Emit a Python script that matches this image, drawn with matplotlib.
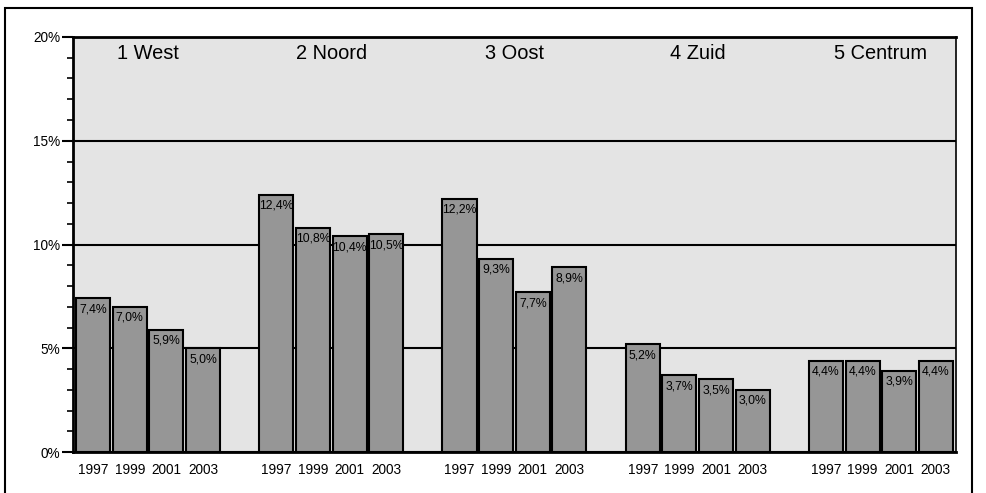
import numpy as np
import matplotlib.pyplot as plt
from matplotlib.patches import Rectangle
from matplotlib.ticker import MultipleLocator

plt.rcParams['font.family'] = ['Liberation Sans', 'DejaVu Sans']

# Data
regions = ["1 West", "2 Noord", "3 Oost", "4 Zuid", "5 Centrum"]
years = ["1997", "1999", "2001", "2003"]
west = [7.4, 7.0, 5.9, 5.0]
noord = [12.4, 10.8, 10.4, 10.5]
oost = [12.2, 9.3, 7.7, 8.9]
zuid = [5.2, 3.7, 3.5, 3.0]
centrum = [4.4, 4.4, 3.9, 4.4]
series = [west, noord, oost, zuid, centrum]

fig = plt.figure(figsize=(9.86, 4.93), dpi=100)
ax = fig.add_axes([0.074, 0.083, 0.8956, 0.842])
ax.set_facecolor("#e4e4e4")

# outer frame
fig.patches.append(Rectangle((5 / 986, -0.05), 967 / 986, 1.05 - 8 / 493,
                             transform=fig.transFigure, fill=False,
                             edgecolor="black", linewidth=1.5))

positions = []
labels = []
for g, vals in enumerate(series):
    x = np.arange(4) + g * 5
    ax.bar(x, vals, width=0.93, color="#969696", edgecolor="black",
           linewidth=1.5, zorder=3)
    for xi, v in zip(x, vals):
        ax.annotate(f"{v:.1f}".replace(".", ",") + "%", (xi, v),
                    xytext=(0, -3.5), textcoords="offset points",
                    ha="center", va="top", fontsize=8.8, zorder=4)
    ax.text(x.mean(), 19.2, regions[g], ha="center", va="center", fontsize=14.4)
    positions.extend(x)
    labels.extend(years)

ax.set_xlim(-0.55, 23.55)
ax.set_ylim(0, 20)
ax.set_xticks(positions)
ax.set_xticklabels(labels, fontsize=9.8)
ax.tick_params(axis="x", length=0, pad=8)

ax.yaxis.set_major_locator(MultipleLocator(5))
ax.yaxis.set_minor_locator(MultipleLocator(1))
ax.set_yticks([0, 5, 10, 15, 20])
ax.set_yticklabels(["0%", "5%", "10%", "15%", "20%"], fontsize=9.8)
ax.tick_params(axis="y", which="major", length=8, width=1.5, pad=1)
ax.tick_params(axis="y", which="minor", length=4, width=1.2)

ax.grid(axis="y", which="major", color="black", linewidth=1.5, zorder=1)
ax.set_axisbelow(True)

for side in ["left", "bottom", "top"]:
    ax.spines[side].set_linewidth(2)
ax.spines["right"].set_linewidth(1.2)

plt.savefig("out.png", dpi=100)
